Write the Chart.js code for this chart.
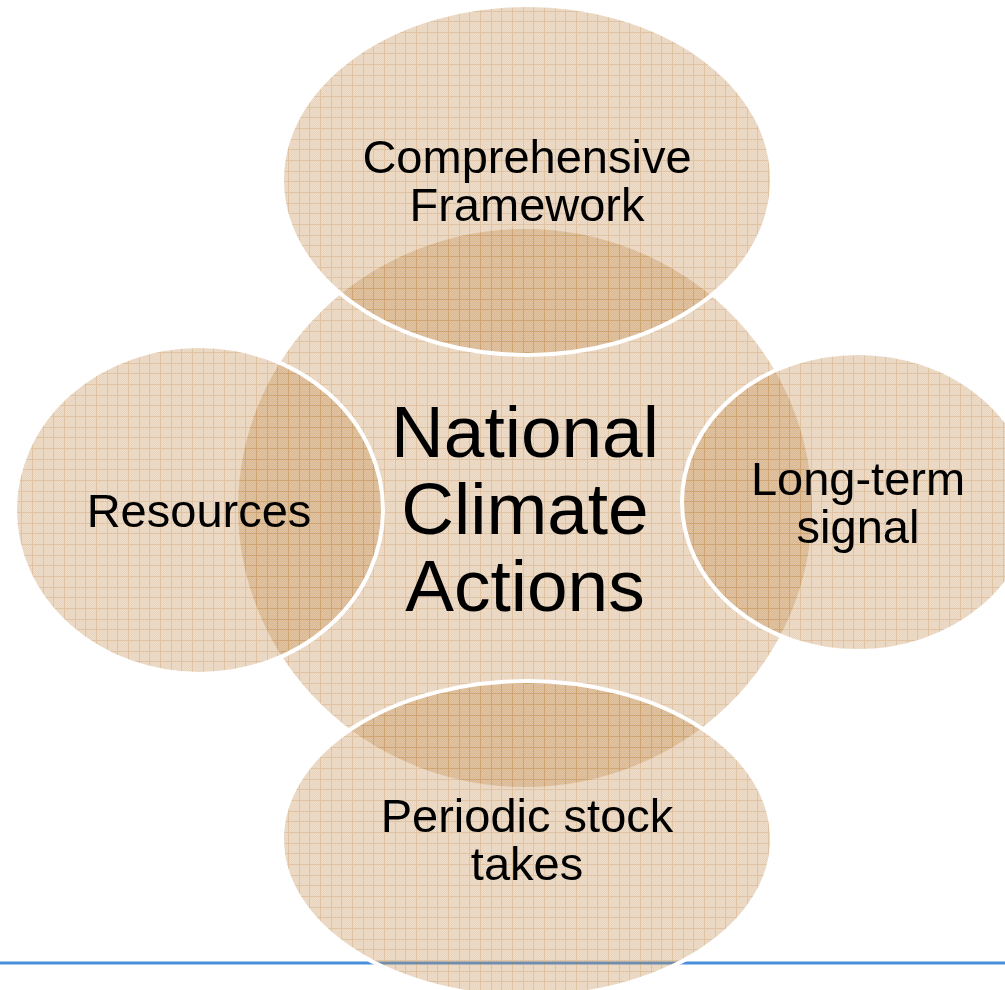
<!DOCTYPE html>
<html>
<head>
<meta charset="utf-8">
<script src="https://cdn.jsdelivr.net/npm/chart.js@4.4.1/dist/chart.umd.min.js"></script>
<style>
html,body{margin:0;padding:0;background:#ffffff;overflow:hidden}
#wrap{width:1005px;height:990px;position:relative}
canvas{display:block}
</style>
</head>
<body>
<div id="wrap"><canvas id="c" width="1005" height="990"></canvas></div>
<script>
// ---- data (diagram coordinate units) ----
const shapeNames = ['National Climate Actions', 'Comprehensive Framework', 'Resources', 'Long-term signal', 'Periodic stock takes'];
const labelLines = [['National', 'Climate', 'Actions'], ['Comprehensive', 'Framework'], ['Resources'], ['Long-term', 'signal'], ['Periodic stock', 'takes']];
const centerX = [525, 527, 199, 858, 527];
const centerY = [508, 180, 510, 502, 839];
const radiusX = [287, 245, 184, 176, 245];
const radiusY = [279, 175, 164, 149, 158];
const labelSize = [73, 47, 47, 47, 47];
const labelLeading = [77, 48, 48, 48, 48];
const ruleX = [0, 1005];
const ruleY = [963, 963];

// ---- textured fill (tan graph-paper look) ----
function makePattern() {
  const t = document.createElement('canvas');
  t.width = 32; t.height = 32;
  const c = t.getContext('2d');
  const img = c.createImageData(32, 32);
  const lines = [0, 11, 21];
  for (let y = 0; y < 32; y++) {
    for (let x = 0; x < 32; x++) {
      let a = ((x + y) % 2 === 0) ? 0.29 : 0.35;
      if (lines.includes(x) || lines.includes(y)) a = 0.5;
      const k = (y * 32 + x) * 4;
      img.data[k] = 192; img.data[k + 1] = 136; img.data[k + 2] = 70;
      img.data[k + 3] = Math.round(a * 255);
    }
  }
  c.putImageData(img, 0, 0);
  return document.getElementById('c').getContext('2d').createPattern(t, 'repeat');
}
const texture = makePattern();

const ellipsePlugin = {
  id: 'ellipseShapes',
  afterDatasetsDraw(chart) {
    const ctx = chart.ctx;
    const xs = chart.scales.x, ys = chart.scales.y;
    const meta = chart.getDatasetMeta(1);
    const ds = chart.data.datasets[1];
    meta.data.forEach((el, i) => {
      const px = el.x, py = el.y;
      const rx = Math.abs(xs.getPixelForValue(centerX[i] + radiusX[i]) - px);
      const ry = Math.abs(ys.getPixelForValue(centerY[i] + radiusY[i]) - py);
      ctx.save();
      ctx.beginPath();
      ctx.ellipse(px, py, rx, ry, 0, 0, Math.PI * 2);
      ctx.fillStyle = ds.shapeFill;
      ctx.fill();
      if (i > 0) {
        ctx.lineWidth = 4;
        ctx.strokeStyle = '#ffffff';
        ctx.stroke();
      }
      ctx.restore();
    });
    meta.data.forEach((el, i) => {
      const lines = labelLines[i];
      const fs = labelSize[i];
      const lead = labelLeading[i];
      ctx.save();
      ctx.fillStyle = '#000000';
      ctx.font = fs + 'px "Liberation Sans", Arial, sans-serif';
      ctx.textAlign = 'center';
      ctx.textBaseline = 'alphabetic';
      const cap = fs * 0.716;
      lines.forEach((ln, j) => {
        const by = el.y + cap / 2 + (j - (lines.length - 1) / 2) * lead;
        ctx.fillText(ln, el.x, by);
      });
      ctx.restore();
    });
  }
};

new Chart(document.getElementById('c'), {
  type: 'scatter',
  data: {
    datasets: [
      {
        type: 'line',
        label: 'rule',
        data: ruleX.map((x, i) => ({ x: x, y: ruleY[i] })),
        borderColor: '#4a8fdc',
        borderWidth: 3,
        pointRadius: 0,
        fill: false
      },
      {
        label: 'shapes',
        data: centerX.map((x, i) => ({ x: x, y: centerY[i], name: shapeNames[i] })),
        pointRadius: 0,
        shapeFill: texture
      }
    ]
  },
  options: {
    responsive: false,
    devicePixelRatio: 1,
    animation: false,
    events: [],
    layout: { padding: 0, autoPadding: false },
    plugins: { legend: { display: false }, tooltip: { enabled: false }, title: { display: false } },
    scales: {
      x: { type: 'linear', min: 0, max: 1005, display: false },
      y: { type: 'linear', min: 0, max: 990, reverse: true, display: false }
    }
  },
  plugins: [ellipsePlugin]
});
</script>
</body>
</html>
